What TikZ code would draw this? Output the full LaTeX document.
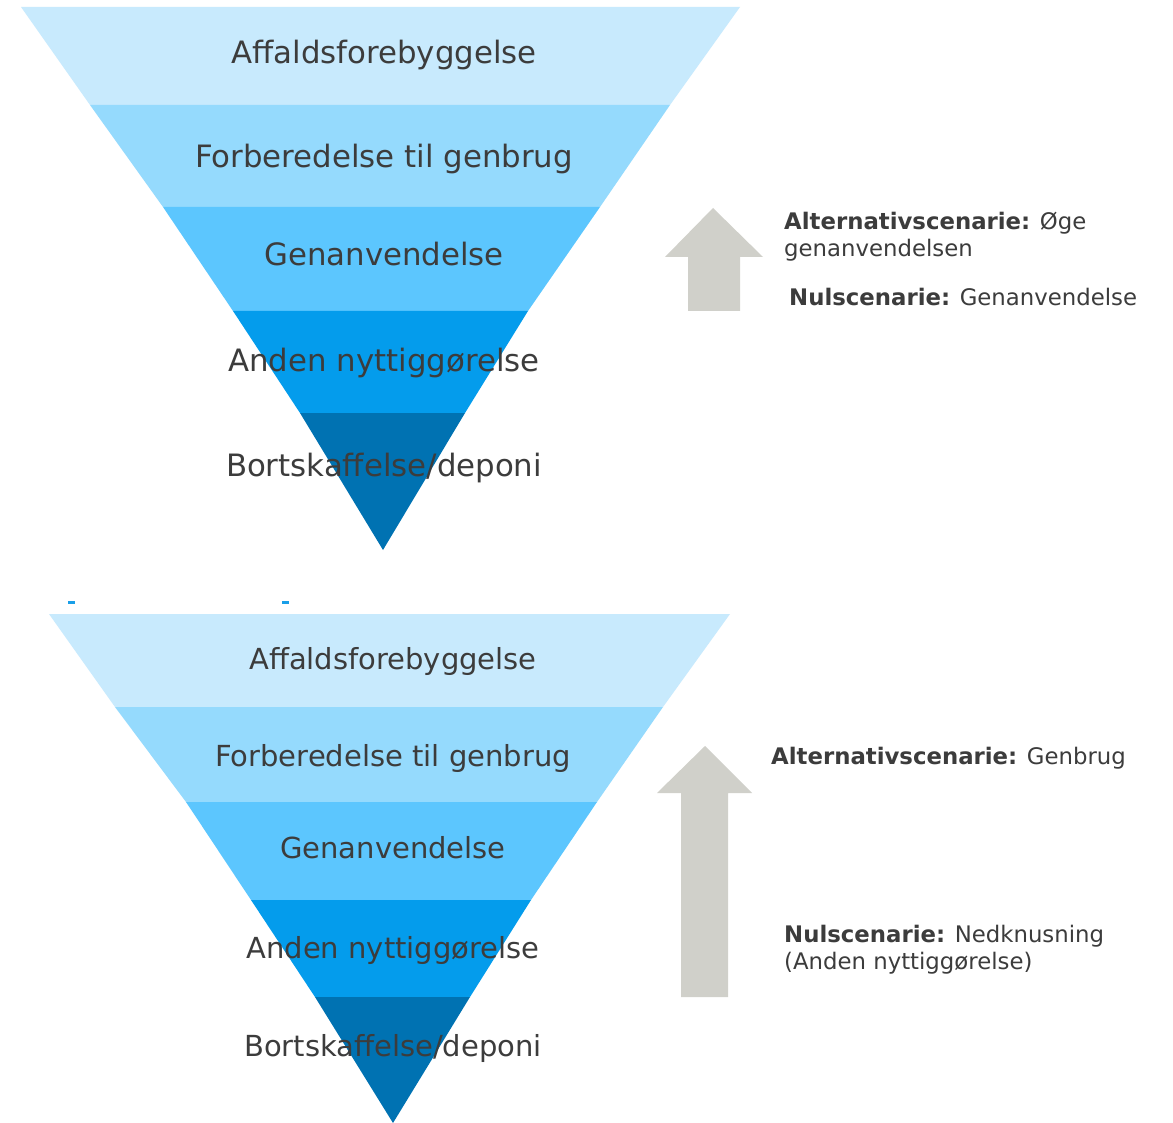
\documentclass[tikz,border=0pt]{standalone}
\usepackage{fontspec}
\setmainfont{DejaVu Sans}
\definecolor{bandA}{HTML}{C8EAFD}
\definecolor{bandB}{HTML}{95DAFD}
\definecolor{bandC}{HTML}{5CC6FE}
\definecolor{bandD}{HTML}{049CEC}
\definecolor{bandE}{HTML}{0072B2}
\definecolor{arrowgray}{HTML}{D0D0CA}
\definecolor{txt}{HTML}{3C3C3C}
\definecolor{markblue}{HTML}{1A9FE8}
\begin{document}
\begin{tikzpicture}[x=1pt,y=-1pt,
  lvltop/.style={anchor=base,text=txt,font=\fontsize{30.8}{36}\selectfont,inner sep=0pt},
  lvlbot/.style={anchor=base,text=txt,font=\fontsize{29.0}{34}\selectfont,inner sep=0pt},
  scen/.style={anchor=base west,text=txt,font=\fontsize{22.8}{27}\selectfont,inner sep=0pt,align=left},
  bigarrow/.style={fill=arrowgray,draw=none}]
\useasboundingbox (0,0) rectangle (1173,1123);
\fill[white] (0,0) rectangle (1173,1123);
% ---- top pyramid ----
\fill[bandA] (21,7) -- (740,7) -- (670,105) -- (90,105) -- cycle;
\fill[bandB] (90,105) -- (670,105) -- (600,207) -- (163,207) -- cycle;
\fill[bandC] (163,207) -- (600,207) -- (528,311) -- (233,311) -- cycle;
\fill[bandD] (233,311) -- (528,311) -- (465,413) -- (300,413) -- cycle;
\fill[bandE] (300,413) -- (465,413) -- (383,550) -- cycle;
\node[lvltop] (t1) at (384,64) {Affaldsforebyggelse};
\node[lvltop] (t2) at (384,168) {Forberedelse til genbrug};
\node[lvltop] (t3) at (384,266) {Genanvendelse};
\node[lvltop] (t4) at (384,371) {Anden nyttiggørelse};
\node[lvltop] (t5) at (384,476) {Bortskaffelse/deponi};
% top arrow
\fill[bigarrow] (713,208) -- (763,257) -- (740,257) -- (740,311) -- (688,311) -- (688,257) -- (665,257) -- cycle;
\node[scen] (ta) at (784,257) {\textbf{Alternativscenarie:} Øge\\genanvendelsen};
\node[scen] (tn) at (789,306) {\textbf{Nulscenarie:} Genanvendelse};
% small marks
\fill[markblue] (68,601) rectangle (75,603.5);
\fill[markblue] (282,601) rectangle (289,603.5);
% ---- bottom pyramid ----
\fill[bandA] (49,614) -- (730,614) -- (663,707) -- (115,707) -- cycle;
\fill[bandB] (115,707) -- (663,707) -- (597,802) -- (186,802) -- cycle;
\fill[bandC] (186,802) -- (597,802) -- (531,900) -- (251,900) -- cycle;
\fill[bandD] (251,900) -- (531,900) -- (470,997) -- (315,997) -- cycle;
\fill[bandE] (315,997) -- (470,997) -- (393,1123) -- cycle;
\node[lvlbot] (b1) at (393,669) {Affaldsforebyggelse};
\node[lvlbot] (b2) at (393,766) {Forberedelse til genbrug};
\node[lvlbot] (b3) at (393,858) {Genanvendelse};
\node[lvlbot] (b4) at (393,958) {Anden nyttiggørelse};
\node[lvlbot] (b5) at (393,1056) {Bortskaffelse/deponi};
% bottom arrow
\fill[bigarrow] (705,746) -- (752,793) -- (728,793) -- (728,997) -- (681,997) -- (681,793) -- (657,793) -- cycle;
\node[scen] (ba) at (771,764) {\textbf{Alternativscenarie:} Genbrug};
\node[scen] (bn) at (784,969) {\textbf{Nulscenarie:} Nedknusning\\(Anden nyttiggørelse)};
\end{tikzpicture}
\end{document}
